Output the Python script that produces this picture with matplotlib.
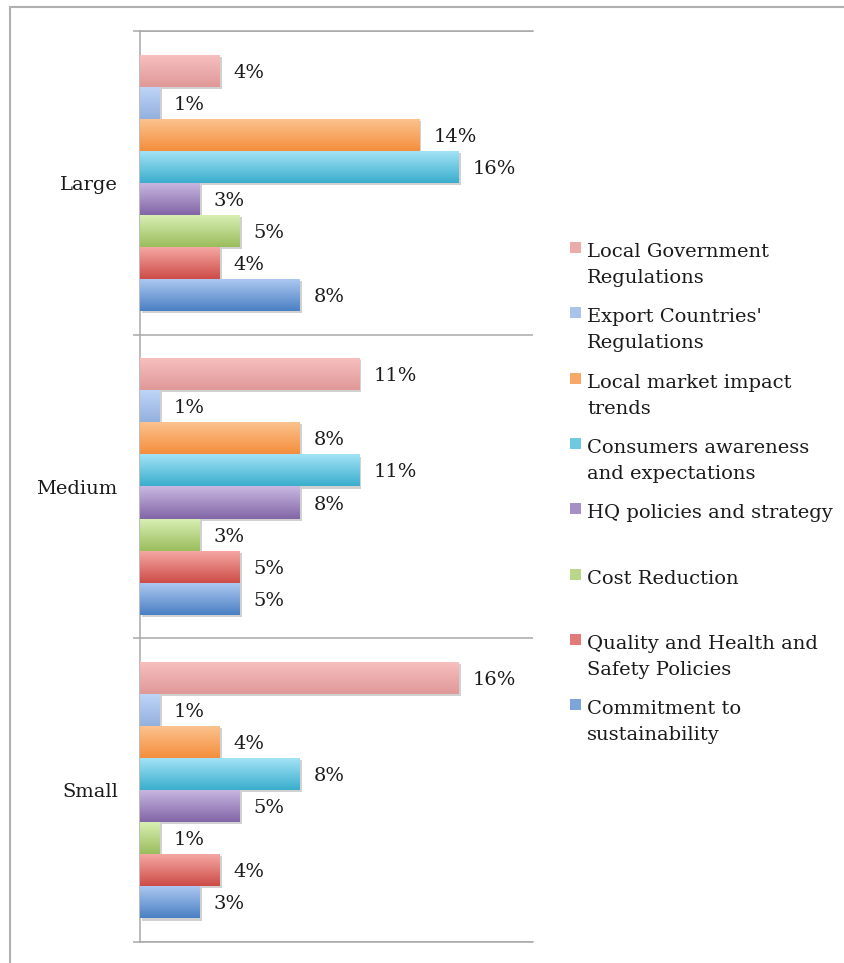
import matplotlib.pyplot as plt
import numpy as np
from matplotlib import patheffects
from matplotlib.colors import to_rgb
from matplotlib.patches import Rectangle

# company size groups, top to bottom
sizes = ["Large", "Medium", "Small"]

# drivers, in the order the bars are stacked inside each group
drivers = [
    "Local Government\nRegulations",
    "Export Countries'\nRegulations",
    "Local market impact\ntrends",
    "Consumers awareness\nand expectations",
    "HQ policies and strategy",
    "Cost Reduction",
    "Quality and Health and\nSafety Policies",
    "Commitment to\nsustainability",
]

# share of responses (%) per size group
local_gov = [4, 11, 16]
export_regs = [1, 1, 1]
local_market = [14, 8, 4]
consumers = [16, 11, 8]
hq_policies = [3, 8, 5]
cost_reduction = [5, 3, 1]
quality_hs = [4, 5, 4]
sustainability = [8, 5, 3]

series = [local_gov, export_regs, local_market, consumers,
          hq_policies, cost_reduction, quality_hs, sustainability]

# light top / darker bottom of each bar's gradient
top_colors = ["#f8c0c0", "#c0d6f8", "#fcc491", "#a6e4f7",
              "#c9b8e2", "#daf0b6", "#f6aaa6", "#afcaf2"]
bottom_colors = ["#e09898", "#93b0de", "#f48e3c", "#3aaecd",
                 "#8266a6", "#9abd5c", "#cd4c47", "#4a80c4"]

W, H = 844, 963
FONT = "DejaVu Serif"
GRAY = "#a8a8a8"
plt.rcParams["font.family"] = FONT

fig = plt.figure(figsize=(W / 100, H / 100), dpi=100)
ax = fig.add_axes([140 / W, 1 - 942 / H, (533 - 140) / W, (942 - 31) / H])

bar_h = 0.1056
shadow = [patheffects.SimplePatchShadow(offset=(1.5, -1.5), shadow_rgbFace="k", alpha=0.18),
          patheffects.Normal()]

for j, vals in enumerate(series):
    pos = np.arange(len(sizes)) + (j - 3.5) * bar_h
    c_top = np.array(to_rgb(top_colors[j]))
    c_bot = np.array(to_rgb(bottom_colors[j]))
    bars = ax.barh(pos, vals, height=bar_h, color=(c_top + c_bot) / 2,
                   linewidth=0, path_effects=shadow, zorder=2)
    grad = np.linspace(0, 1, 64)[:, None, None]
    grad = c_top * (1 - grad) + c_bot * grad
    for b, v in zip(bars, vals):
        x0, y0 = b.get_x(), b.get_y()
        im = ax.imshow(grad, extent=(x0, x0 + b.get_width(), y0 + b.get_height(), y0),
                       origin="upper", aspect="auto", interpolation="bilinear", zorder=3)
        im.set_clip_path(b)
        ax.annotate(f"{v}%", (v, y0 + bar_h / 2), xytext=(14, 0),
                    textcoords="offset pixels", ha="left", va="center_baseline",
                    fontsize=14, color="#1a1a1a")

ax.set_xlim(0, 16 * 393 / 319)
ax.set_ylim(len(sizes) - 0.5, -0.5)

ax.set_yticks(range(len(sizes)))
ax.set_yticklabels(sizes, fontsize=14, color="#1a1a1a")
ax.set_yticks(np.arange(len(sizes) + 1) - 0.5, minor=True)
ax.tick_params(axis="y", which="major", length=0, pad=16)
ax.tick_params(axis="y", which="minor", length=5, width=1.1, color=GRAY)
ax.grid(axis="y", which="minor", color=GRAY, linewidth=1.1)
ax.set_xticks([])
for side in ["left", "top", "bottom"]:
    ax.spines[side].set_color(GRAY)
    ax.spines[side].set_linewidth(1.1)
ax.spines["right"].set_visible(False)

# legend drawn by hand so the two-line entries keep an even pitch
for k, label in enumerate(drivers):
    base = 257 + k * 65.3
    mid = (np.array(to_rgb(top_colors[k])) + np.array(to_rgb(bottom_colors[k]))) / 2
    fig.add_artist(Rectangle((570 / W, 1 - (base - 4) / H), 11 / W, 11 / H,
                             transform=fig.transFigure, color=mid, lw=0))
    for li, line in enumerate(label.split("\n")):
        fig.text(587 / W, 1 - (base + li * 26) / H, line, ha="left", va="baseline",
                 fontsize=14, color="#1a1a1a")

# outer chart frame, running off the right and bottom edges
fig.add_artist(Rectangle((10 / W, -0.05), 1.1, 1.05 - 7 / H, transform=fig.transFigure,
                         fill=False, edgecolor="#b0b0b0", lw=1.5))

fig.savefig("out.png", dpi=100)
